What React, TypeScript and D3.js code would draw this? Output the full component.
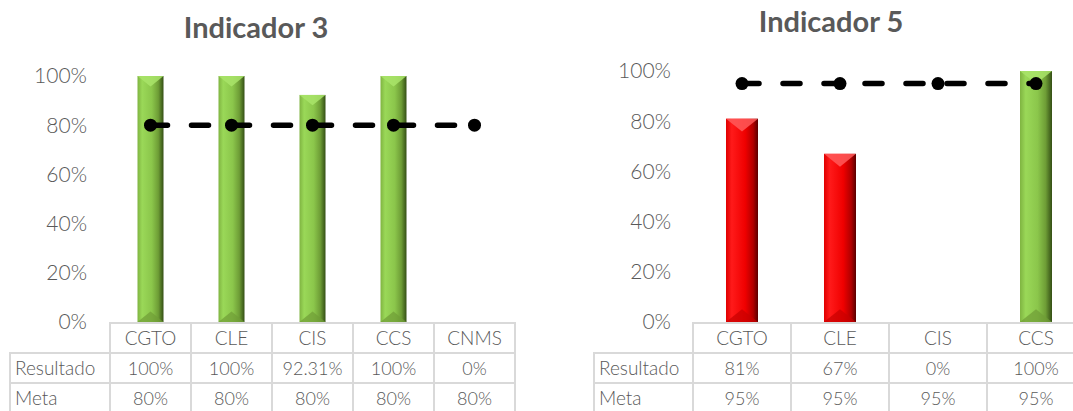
import React from 'react';
import * as d3 from 'd3';

// Indicador 3
const categories3 = ['CGTO', 'CLE', 'CIS', 'CCS', 'CNMS'];
const resultado3 = [1, 1, 0.9231, 1, 0];
const meta3 = [0.8, 0.8, 0.8, 0.8, 0.8];

// Indicador 5
const categories5 = ['CGTO', 'CLE', 'CIS', 'CCS'];
const resultado5 = [0.81, 0.67, 0, 1];
const meta5 = [0.95, 0.95, 0.95, 0.95];

const yTicks = [0, 0.2, 0.4, 0.6, 0.8, 1];
const rowLabels = ['Resultado', 'Meta'];

const FONT = 'Lato, "Open Sans", sans-serif';
const TEXT = '#595959';
const GRID = '#d9d9d9';

interface ChartProps {
  title: string;
  titleX: number;
  titleY: number;
  categories: string[];
  resultado: number[];
  meta: number[];
  xRange: [number, number];
  yRange: [number, number];
  tickX: number;
  headerX: number;
  barWidth: number;
  tableTop: number;
  rowH: number;
}

const pct = d3.format('.2~%');
const tickFmt = d3.format('.0%');

function Bar({ x, y, w, h, ok }: { x: number; y: number; w: number; h: number; ok: boolean }) {
  if (h <= 0) return null;
  const b = Math.min(w * 0.4, h / 2);
  const xc = x + w / 2;
  return (
    <g>
      <rect x={x} y={y} width={w} height={h} fill={ok ? 'url(#gGreen)' : 'url(#gRed)'} />
      <polygon
        points={`${x},${y} ${x + w},${y} ${xc},${y + b}`}
        fill={ok ? '#a9e46a' : '#ff5a5a'}
        opacity={0.85}
      />
      <polygon
        points={`${x},${y + h} ${x + w},${y + h} ${xc},${y + h - b}`}
        fill={ok ? '#6f9d36' : '#c80000'}
        opacity={0.7}
      />
    </g>
  );
}

function Chart(p: ChartProps) {
  const x = d3.scaleBand<string>().domain(p.categories).range(p.xRange).padding(0);
  const y = d3.scaleLinear().domain([0, 1]).range(p.yRange);
  const cx = (c: string) => (x(c) as number) + x.bandwidth() / 2;

  const line = d3
    .line<number>()
    .x((_, i) => cx(p.categories[i]))
    .y(d => y(d));

  const rows = [p.resultado, p.meta];
  const tRight = p.xRange[1];

  return (
    <g fontFamily={FONT}>
      <text x={p.titleX} y={p.titleY} textAnchor="middle" fontSize={29} fontWeight="bold" fill={TEXT}>
        {p.title}
      </text>

      {yTicks.map(t => (
        <text key={t} x={p.tickX} y={y(t)} dy="0.35em" textAnchor="end" fontSize={21} fontWeight={300} fill={TEXT}>
          {tickFmt(t)}
        </text>
      ))}

      {p.categories.map((c, i) => {
        const v = p.resultado[i];
        const top = y(v);
        return (
          <Bar
            key={c}
            x={cx(c) - p.barWidth / 2}
            y={top}
            w={p.barWidth}
            h={y(0) - top}
            ok={v >= p.meta[i]}
          />
        );
      })}

      <path
        d={line(p.meta) as string}
        fill="none"
        stroke="#000"
        strokeWidth={5.5}
        strokeDasharray="17,24"
        strokeLinecap="round"
      />
      {p.meta.map((m, i) => (
        <circle key={i} cx={cx(p.categories[i])} cy={y(m)} r={6.5} fill="#000" />
      ))}

      {/* data table */}
      <g stroke={GRID} strokeWidth={2} fill="none">
        {p.categories.map(c => (
          <rect key={c} x={x(c)} y={p.tableTop} width={x.bandwidth()} height={p.rowH * 3} />
        ))}
        <line x1={p.xRange[0]} x2={tRight} y1={p.tableTop + p.rowH} y2={p.tableTop + p.rowH} />
        <line x1={p.headerX} x2={tRight} y1={p.tableTop + p.rowH * 2} y2={p.tableTop + p.rowH * 2} />
        <rect x={p.headerX} y={p.tableTop + p.rowH} width={p.xRange[0] - p.headerX} height={p.rowH * 2} />
      </g>

      {p.categories.map(c => (
        <text key={c} x={cx(c)} y={p.tableTop + p.rowH / 2} dy="0.38em" textAnchor="middle" fontSize={19} fontWeight={300} fill={TEXT}>
          {c}
        </text>
      ))}

      {rowLabels.map((r, ri) => (
        <g key={r}>
          <text x={p.headerX + 5} y={p.tableTop + p.rowH * (ri + 1.5)} dy="0.36em" fontSize={19} fontWeight={300} fill={TEXT}>
            {r}
          </text>
          {rows[ri].map((v, i) => (
            <text key={i} x={cx(p.categories[i])} y={p.tableTop + p.rowH * (ri + 1.5)} dy="0.4em" textAnchor="middle" fontSize={18} fontWeight={300} fill={TEXT}>
              {pct(v)}
            </text>
          ))}
        </g>
      ))}
    </g>
  );
}

export default function App() {
  return (
    <div style={{ position: 'absolute', left: 0, top: 0 }}>
      <svg width={1073} height={411} style={{ display: 'block', background: '#fff' }}>
        <defs>
          <linearGradient id="gGreen" x1="0" x2="1" y1="0" y2="0">
            <stop offset="0%" stopColor="#7fb441" />
            <stop offset="18%" stopColor="#9ad858" />
            <stop offset="55%" stopColor="#8bc64b" />
            <stop offset="80%" stopColor="#6e9d36" />
            <stop offset="100%" stopColor="#344f15" />
          </linearGradient>
          <linearGradient id="gRed" x1="0" x2="1" y1="0" y2="0">
            <stop offset="0%" stopColor="#e00000" />
            <stop offset="18%" stopColor="#ff1a1a" />
            <stop offset="60%" stopColor="#f00000" />
            <stop offset="85%" stopColor="#b00000" />
            <stop offset="100%" stopColor="#5a0000" />
          </linearGradient>
        </defs>
        <Chart
          title="Indicador 3"
          titleX={256}
          titleY={38}
          categories={categories3}
          resultado={resultado3}
          meta={meta3}
          xRange={[110, 515]}
          yRange={[322, 76]}
          tickX={87}
          headerX={10}
          barWidth={26}
          tableTop={323}
          rowH={30}
        />
        <Chart
          title="Indicador 5"
          titleX={831}
          titleY={32}
          categories={categories5}
          resultado={resultado5}
          meta={meta5}
          xRange={[693, 1085]}
          yRange={[322, 71]}
          tickX={671}
          headerX={594}
          barWidth={32}
          tableTop={323}
          rowH={30}
        />
      </svg>
    </div>
  );
}
